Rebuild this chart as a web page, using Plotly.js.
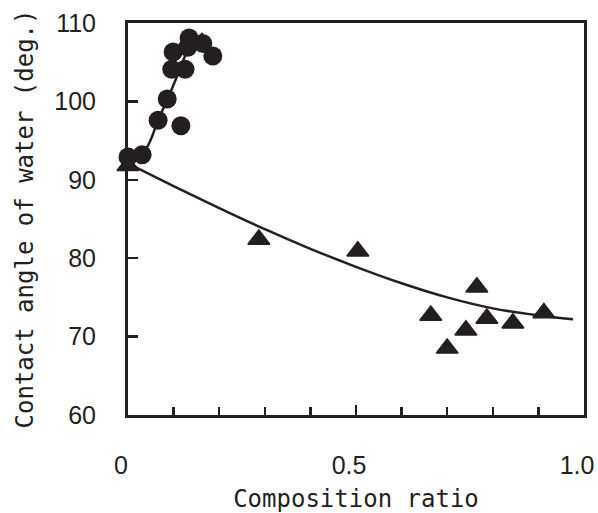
<!DOCTYPE html>
<html>
<head>
<meta charset="utf-8">
<script src="https://cdn.plot.ly/plotly-3.0.1.min.js"></script>
<style>
html,body{margin:0;padding:0;background:#fff;}
#chart{width:598px;height:513px;}
</style>
</head>
<body>
<div id="chart"></div>
<script>
// Circles (series 1)
const circleX = [0.0, 0.031, 0.066, 0.086, 0.116, 0.096, 0.125, 0.099, 0.134, 0.131, 0.164, 0.186];
const circleY = [92.9, 93.2, 97.6, 100.3, 96.9, 104.1, 104.1, 106.3, 108.1, 106.9, 107.4, 105.8];
// Triangles (series 2)
const triX = [0.0, 0.287, 0.504, 0.664, 0.700, 0.741, 0.765, 0.787, 0.844, 0.912];
const triY = [91.8, 82.4, 80.9, 72.7, 68.5, 70.8, 76.3, 72.3, 71.7, 73.0];
// Fitted curves
const fit1X = [0.0, 0.042, 0.066, 0.086, 0.107, 0.132, 0.164];
const fit1Y = [92.1, 94.2, 97.6, 100.2, 103.1, 106.6, 108.7];
const fit2X = [0.0, 0.1, 0.2, 0.3, 0.4, 0.5, 0.6, 0.7, 0.8, 0.9, 0.976];
const fit2Y = [92.1, 89.2, 86.4, 83.7, 81.2, 78.9, 76.8, 75.0, 73.6, 72.7, 72.2];
// Tick labels
const xTickVals = [0, 0.5, 1.0];
const xTickText = ['0', '0.5', '1.0'];
const yTickVals = [60, 70, 80, 90, 100, 110];

const ink = '#231f20';

const traces = [
  {x: fit1X, y: fit1Y, mode: 'lines', line: {color: ink, width: 2.5, shape: 'spline', smoothing: 0.8}, hoverinfo: 'skip', cliponaxis: false},
  {x: fit2X, y: fit2Y, mode: 'lines', line: {color: ink, width: 2.5, shape: 'spline', smoothing: 1}, hoverinfo: 'skip', cliponaxis: false},
  {x: triX, y: triY, mode: 'markers', marker: {symbol: 'triangle-up', size: 19, color: ink, line: {color: ink, width: 1.5}}, cliponaxis: false},
  {x: circleX, y: circleY, mode: 'markers', marker: {symbol: 'circle', size: 19, color: ink}, cliponaxis: false}
];

const layout = {
  width: 598, height: 513,
  margin: {l: 128, r: 14, t: 23, b: 98},
  paper_bgcolor: '#fff', plot_bgcolor: '#fff',
  showlegend: false,
  font: {family: 'Liberation Sans, Arial, sans-serif', color: ink},
  xaxis: {
    range: [0, 1.0],
    tickvals: xTickVals, ticktext: xTickText,
    ticks: 'inside', ticklen: 10, tickwidth: 2.5, tickcolor: ink,
    minor: {dtick: 0.1, tick0: 0, ticks: 'inside', ticklen: 8, tickwidth: 2.5, tickcolor: ink, showgrid: false},
    showline: true, linewidth: 3, linecolor: ink, mirror: true,
    showgrid: false, zeroline: false,
    tickfont: {family: 'Liberation Sans, Arial, sans-serif', size: 25, color: ink},
    ticklabelstandoff: 26, ticklabelshift: -7,
    title: {text: 'Composition ratio', font: {family: 'DejaVu Sans Mono, monospace', size: 24, color: ink}, standoff: 18}
  },
  yaxis: {
    range: [60, 110],
    tickvals: yTickVals,
    ticks: 'inside', ticklen: 10, tickwidth: 2.5, tickcolor: ink,
    showline: true, linewidth: 3, linecolor: ink, mirror: true,
    showgrid: false, zeroline: false,
    tickfont: {family: 'Liberation Sans, Arial, sans-serif', size: 25, color: ink},
    ticklabelstandoff: 24,
    title: {text: 'Contact angle of water (deg.)', font: {family: 'DejaVu Sans Mono, monospace', size: 24, color: ink}, standoff: 14}
  }
};

Plotly.newPlot('chart', traces, layout, {displayModeBar: false, staticPlot: true});
</script>
</body>
</html>
